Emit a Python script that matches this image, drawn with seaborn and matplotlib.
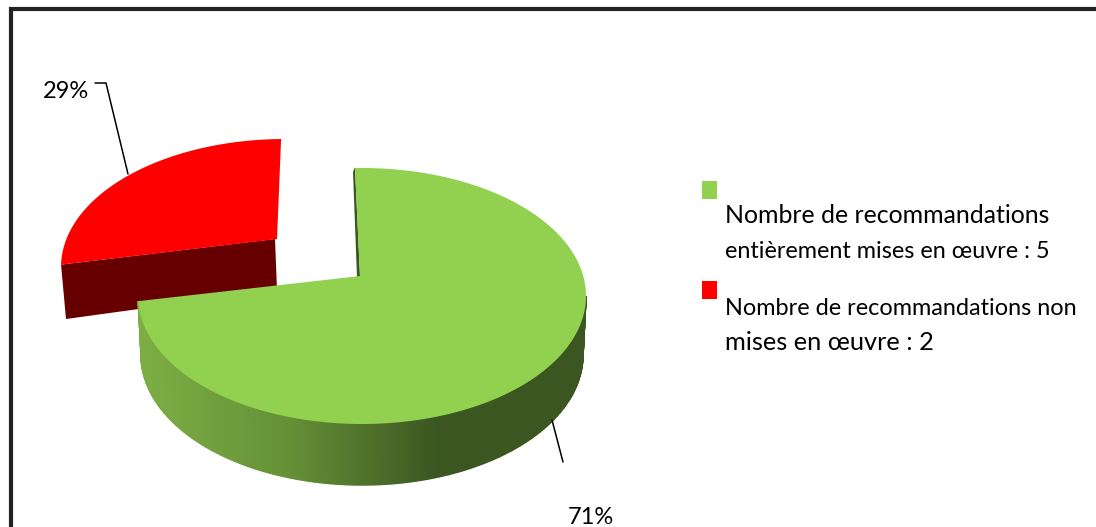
import numpy as np
import matplotlib
matplotlib.use("Agg")
import matplotlib.pyplot as plt
import seaborn as sns

sns.set_theme(style="white")
plt.rcParams["font.family"] = ["Lato", "DejaVu Sans"]

# values of the chart
legend_lines = [["Nombre de recommandations", "entièrement mises en œuvre : 5"],
                ["Nombre de recommandations non", "mises en œuvre : 2"]]
counts = [5, 2]
top_colors = ["#92D050", "#FF0000"]
side_colors = ["#7DAE45", "#659036", "#3B5621", "#3B5621"]
red_side = "#660000"

shares = np.array(counts) / sum(counts)
pct = [f"{round(s * 100)}%" for s in shares]


def rim(cx, cy, rx, ry, t):
    # t in degrees, clockwise from the top of the ellipse
    r = np.radians(t)
    return np.column_stack([cx + rx * np.sin(r), cy - ry * np.cos(r)])


fig = plt.figure(figsize=(10.96, 5.27), dpi=100)
ax = fig.add_axes([0, 0, 1, 1])
ax.set_xlim(0, 1096)
ax.set_ylim(527, 0)
ax.axis("off")

# frame, only top and left fall inside the crop
ax.plot([11, 11, 1096], [527, 9, 9], color="#222222", lw=3.0, solid_joinstyle="miter")

# red slice, pulled out to the upper left
red_ell = (285, 267, 224, 128)
red_span = shares[1] * 360 * 0.855
t = np.linspace(-1, -1 - red_span, 80)
red_arc = rim(*red_ell, t)
red_apex = np.array([277, 239])
ax.fill(*np.vstack([[275, 239], [277, 290], [66, 319], red_arc[-1]]).T, color=red_side, lw=0)
ax.fill(*np.vstack([red_apex, red_arc]).T, color=top_colors[1], lw=0)

# green slice, side wall first then the top face
top_ell = (362, 296, 224, 128)
low_ell = (362, 355, 221, 130)
start = -1.8
end = start + shares[0] * 360 * 1.048
green_apex = np.array([360, 276])

ax.fill([355, 353, 357, 360], [167, 172, 277, 277], color=side_colors[2], lw=0)

n_wall = 220
wall_t = np.linspace(90, end, n_wall + 1)
upper = rim(*top_ell, wall_t)
lower = rim(*low_ell, wall_t)
ramp = sns.blend_palette(side_colors, n_colors=256)
x_min, x_max = upper[:, 0].min(), upper[:, 0].max()
for i in range(n_wall):
    mid = (upper[i, 0] + upper[i + 1, 0]) / 2
    c = ramp[int((mid - x_min) / (x_max - x_min) * 255)]
    quad = np.vstack([upper[i], upper[i + 1], lower[i + 1], lower[i]])
    ax.fill(*quad.T, facecolor=c, edgecolor=c, lw=1.0)

t = np.linspace(start, end, 240)
ax.fill(*np.vstack([green_apex, rim(*top_ell, t)]).T, color=top_colors[0], lw=0)

# leader lines and percentages
ax.plot([95, 106, 128], [83, 83, 174], color="black", lw=1.1, solid_joinstyle="miter")
ax.plot([552, 563], [420, 462], color="black", lw=1.1)
ax.text(89, 91, pct[1], ha="right", va="center", fontsize=17, color="black")
ax.text(591, 518, pct[0], ha="center", va="center", fontsize=17, color="black")

# legend, each line sized on its own to fit the width seen in the reference
line_sizes = [[17.9, 16.8], [16.9, 18.3]]
baselines = [[223, 258], [315, 350]]
for lines, col, sq_y, sizes, ys in zip(legend_lines, top_colors, [181, 281], line_sizes, baselines):
    ax.fill([702, 717, 717, 702], [sq_y, sq_y, sq_y + 18, sq_y + 18], color=col, lw=0)
    for line, size, y in zip(lines, sizes, ys):
        ax.text(725, y, line, ha="left", va="baseline", fontsize=size, color="black")

fig.savefig("out.png", dpi=100)
